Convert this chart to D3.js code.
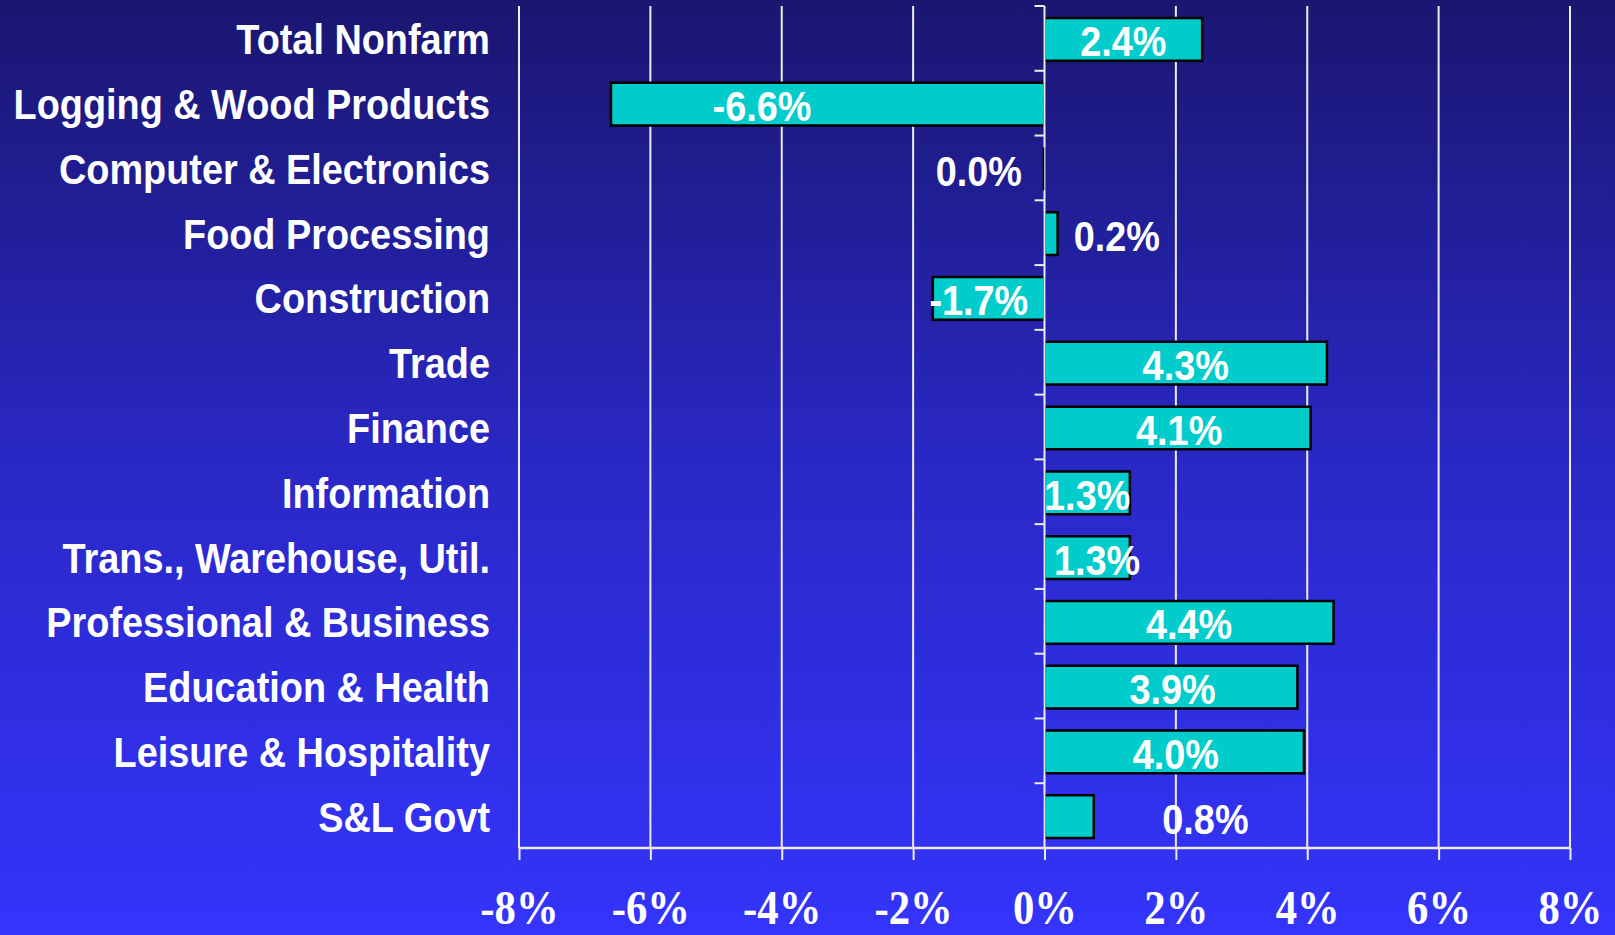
<!DOCTYPE html>
<html>
<head>
<meta charset="utf-8">
<script src="https://cdn.jsdelivr.net/npm/d3@7"></script>
<style>
  html, body { margin: 0; padding: 0; background: #1a1670; }
  svg { display: block; }
</style>
</head>
<body>
<svg id="chart" width="1615" height="935"></svg>
<script>
// ---- data ----
const categories = [
  "Total Nonfarm",
  "Logging & Wood Products",
  "Computer & Electronics",
  "Food Processing",
  "Construction",
  "Trade",
  "Finance",
  "Information",
  "Trans., Warehouse, Util.",
  "Professional & Business",
  "Education & Health",
  "Leisure & Hospitality",
  "S&L Govt"
];
const values = [2.4, -6.6, 0.0, 0.2, -1.7, 4.3, 4.05, 1.3, 1.3, 4.4, 3.85, 3.95, 0.75];
const valueLabels = ["2.4%", "-6.6%", "0.0%", "0.2%", "-1.7%", "4.3%", "4.1%", "1.3%", "1.3%", "4.4%", "3.9%", "4.0%", "0.8%"];
// where each value label sits along the value axis (in % units)
const labelAt = [1.2, -4.3, -1.0, 1.1, -1.0, 2.15, 2.05, 0.65, 0.8, 2.2, 1.95, 2.0, 2.45];
const xTicks = [-8, -6, -4, -2, 0, 2, 4, 6, 8];
const xTickLabels = ["-8%", "-6%", "-4%", "-2%", "0%", "2%", "4%", "6%", "8%"];

// ---- layout ----
const W = 1615, H = 935;
const svg = d3.select("#chart");

const defs = svg.append("defs");
const grad = defs.append("linearGradient").attr("id", "bg")
  .attr("x1", 0).attr("y1", 0).attr("x2", 0).attr("y2", 1);
grad.append("stop").attr("offset", "0%").attr("stop-color", "#1a1670");
grad.append("stop").attr("offset", "50%").attr("stop-color", "#2a28c6");
grad.append("stop").attr("offset", "100%").attr("stop-color", "#3434fc");
svg.append("rect").attr("width", W).attr("height", H).attr("fill", "url(#bg)");

const x = d3.scaleLinear().domain([-8, 8]).range([519, 1570]);
const y = d3.scaleBand().domain(categories).range([6, 848])
  .paddingInner(0.34).paddingOuter(0.17);
const x0 = x(0);
const yTop = 6, yBot = 848;

// gridlines
svg.append("g").selectAll("line").data(xTicks.filter(d => d !== 0)).join("line")
  .attr("x1", d => x(d)).attr("x2", d => x(d))
  .attr("y1", yTop).attr("y2", yBot)
  .attr("stroke", "#ececec").attr("stroke-width", 2);

// bottom axis
const xAxis = d3.axisBottom(x).tickValues(xTicks).tickSize(12).tickFormat((d, i) => xTickLabels[i]);
const gx = svg.append("g").attr("transform", `translate(0,${yBot})`).call(xAxis);
gx.select(".domain").attr("stroke", "#ececec").attr("stroke-width", 2.5).attr("d", `M${x(-8)},0H${x(8)}`);
gx.selectAll(".tick line").attr("stroke", "#ececec").attr("stroke-width", 2);
gx.selectAll(".tick text")
  .attr("y", null).attr("dy", null)
  .attr("transform", "translate(0,76) scale(0.95,1.07)")
  .attr("fill", "#ffffff")
  .attr("font-family", "'Liberation Serif', 'Times New Roman', serif")
  .attr("font-weight", "bold")
  .attr("font-size", 45);

// bars (drawn as paths so a zero-length bar still shows its outline)
svg.append("g").selectAll("path").data(values).join("path")
  .attr("d", (d, i) => {
    const x1 = x(Math.min(0, d)), x2 = x(Math.max(0, d));
    const y1 = y(categories[i]) + 1, y2 = y1 + y.bandwidth();
    return `M${x1},${y1}H${x2}V${y2}H${x1}Z`;
  })
  .attr("fill", "#00cccc")
  .attr("stroke", "#000")
  .attr("stroke-width", 2.5);

// vertical axis at zero with category boundary ticks
const step = y.step();
const boundaries = d3.range(categories.length + 1).map(i => yTop + i * step);
svg.append("line").attr("x1", x0).attr("x2", x0).attr("y1", yTop).attr("y2", yBot)
  .attr("stroke", "#ececec").attr("stroke-width", 2);
svg.append("g").selectAll("line").data(boundaries).join("line")
  .attr("x1", x0 - 10).attr("x2", x0).attr("y1", d => d).attr("y2", d => d)
  .attr("stroke", "#ececec").attr("stroke-width", 2);
// zero-length bar outline sits over the axis
svg.append("g").selectAll("line").data(values.map((v, i) => ({ v, i })).filter(o => o.v === 0)).join("line")
  .attr("x1", x0 - 1).attr("x2", x0 - 1)
  .attr("y1", o => y(categories[o.i]) + 1).attr("y2", o => y(categories[o.i]) + 1 + y.bandwidth())
  .attr("stroke", "#000").attr("stroke-width", 1.5);

// category labels
svg.append("g").selectAll("text").data(categories).join("text")
  .attr("transform", d => `translate(490,${y(d) + y.bandwidth() / 2 + 16}) scale(0.88,1)`)
  .attr("text-anchor", "end")
  .attr("fill", "#ffffff")
  .attr("font-family", "'Liberation Sans', Arial, sans-serif")
  .attr("font-weight", "bold")
  .attr("font-size", 43)
  .text(d => d);

// value labels
svg.append("g").selectAll("text").data(valueLabels).join("text")
  .attr("transform", (d, i) => `translate(${x(labelAt[i])},${y(categories[i]) + y.bandwidth() / 2 + 18}) scale(0.88,1)`)
  .attr("text-anchor", "middle")
  .attr("fill", "#ffffff")
  .attr("font-family", "'Liberation Sans', Arial, sans-serif")
  .attr("font-weight", "bold")
  .attr("font-size", 43)
  .text(d => d);
</script>
</body>
</html>
